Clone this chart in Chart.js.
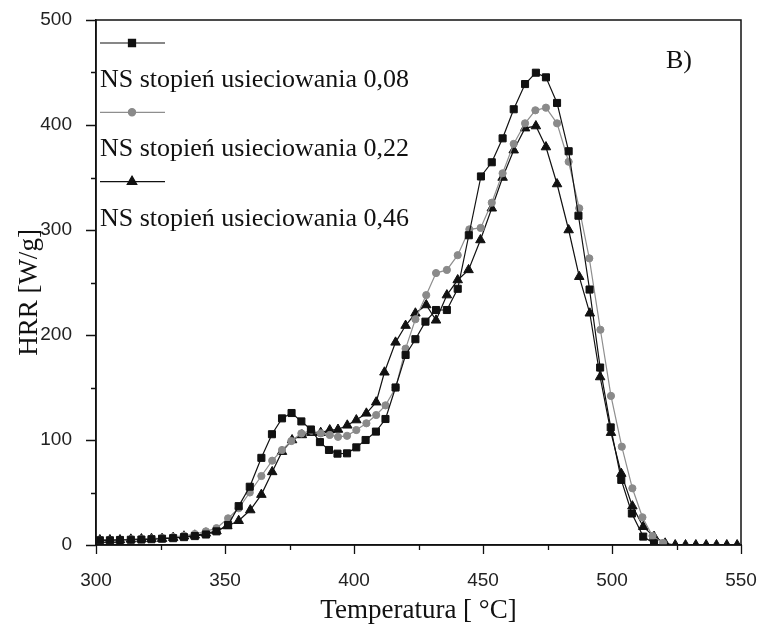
<!DOCTYPE html>
<html>
<head>
<meta charset="utf-8">
<script src="https://cdn.jsdelivr.net/npm/chart.js@4.4.1/dist/chart.umd.min.js"></script>
<style>
  html, body { margin: 0; padding: 0; background: #fff; }
  #wrap { width: 762px; height: 633px; }
</style>
</head>
<body>
<div id="wrap"><canvas id="hrr"></canvas></div>
<script>
// HRR curves, temperature in degC, HRR in W/g
const labels = ['NS stopień usieciowania 0,08', 'NS stopień usieciowania 0,22', 'NS stopień usieciowania 0,46']

const tempLow = [301.5, 305.4, 309.3, 313.5, 317.6, 321.5, 325.6, 329.9, 334.1, 338.3, 342.6, 346.7]

const temp008 = tempLow.concat([351.2, 355.3, 359.6, 364.1, 368.2, 372.1, 375.8, 379.6, 383.3, 386.8, 390.3, 393.6, 397.3,
  400.9, 404.5, 408.5, 412.2, 416.1, 420.0, 423.8, 427.7, 431.8, 436.0, 440.2, 444.5, 449.2, 453.4, 457.6,
  461.9, 466.3, 470.5, 474.4, 478.7, 483.2, 487.0, 491.3, 495.4, 499.5, 503.6, 507.7, 512.1, 516.3])
const hrr008 = [4.5, 4.5, 4.8, 5.0, 5.2, 5.5, 6.0, 6.5, 7.5, 8.5, 10, 13,
  19, 37, 55.5, 83, 105.5, 120.6, 125.7, 117.7, 110, 98, 90.5, 87, 87.3,
  93, 100, 108, 120, 150, 181, 196, 212.7, 223.8, 223.8, 244, 295, 351, 364.5, 387.3,
  415, 439, 449.8, 445.4, 421, 375, 313.6, 243.3, 169, 112, 62, 30, 8, 1.5]

const temp022 = tempLow.concat([351.2, 355.3, 359.6, 364.1, 368.3, 372.1, 375.7, 379.6, 383.5, 387.1, 390.6, 393.8, 397.3,
  400.9, 404.8, 408.6, 412.2, 416.2, 420.0, 423.8, 428.0, 431.8, 436.0, 440.2, 444.7, 449.1, 453.4, 457.6,
  461.9, 466.3, 470.3, 474.4, 478.7, 483.2, 487.3, 491.2, 495.5, 499.6, 503.8, 507.9, 511.8, 515.7, 519.8])
const hrr022 = [4.8, 4.8, 4.8, 5.4, 5.7, 6.2, 6.5, 7.5, 9, 10.5, 13, 16,
  25.4, 35, 50, 65.7, 80.3, 90.5, 99, 106.3, 108.9, 106.3, 104.8, 103, 104,
  109.5, 115.9, 123.8, 133, 150, 187, 215, 238, 259, 262, 276, 300.6, 302, 326, 354,
  382, 401.6, 414, 416.5, 401.6, 365, 320.7, 273, 205, 142, 93.6, 54, 26.4, 8.6, 2]

const temp046 = tempLow.concat([350.9, 355.3, 359.8, 364.1, 368.3, 372.1, 376.0, 379.8, 383.5, 387.1, 390.6, 393.8, 397.4,
  400.9, 404.8, 408.6, 411.8, 416.1, 420.0, 423.8, 428.0, 431.8, 436.0, 440.2, 444.4, 449.0, 453.4, 457.6,
  461.9, 466.3, 470.5, 474.4, 478.7, 483.2, 487.3, 491.4, 495.4, 499.6, 503.6, 507.9, 512.1, 516.3, 520.6,
  524.5, 528.5, 532.5, 536.5, 540.5, 544.5, 548.5])
const hrr046 = [4.8, 4.8, 4.8, 5.4, 5.7, 6.0, 6.0, 7.0, 8.3, 9.2, 11.1, 13.3,
  18.1, 23.1, 33.3, 48, 69.6, 88.9, 100, 104.8, 107, 107, 109.5, 110, 114,
  119, 125.4, 136, 164.5, 193, 209, 220.7, 228.6, 214, 238, 252.4, 262, 290.5, 320.7, 350,
  376, 397, 399, 379, 343.8, 300, 255.5, 220.7, 160, 107, 68, 37, 17.4, 8, 1.6,
  0, 0, 0, 0, 0, 0, 0]

const xTicks = [300, 350, 400, 450, 500, 550]
const yTicks = [0, 100, 200, 300, 400, 500]
const panelTag = 'B)'
const xTitle = 'Temperatura [ °C]'
const yTitle = 'HRR [W/g]'

const serif = "'Liberation Serif', 'Times New Roman', serif"

function points(xs, ys) {
  return xs.map((x, i) => ({ x: x, y: ys[i] }))
}

// fixed box sizes, no extra room for overflowing tick labels
function fitX(s) {
  s.height = 88
  s.paddingLeft = 0
  s.paddingRight = 0
}
function fitY(s) {
  s.width = 96
  s.paddingTop = 0
  s.paddingBottom = 0
}

// tick marks, frame, legend block and axis titles
const decor = {
  id: 'decor',
  afterDraw(chart) {
    const ctx = chart.ctx
    const area = chart.chartArea
    const xs = chart.scales.x
    const ys = chart.scales.y
    ctx.save()
    ctx.strokeStyle = '#111'
    ctx.lineWidth = 1.5
    ctx.strokeRect(area.left, area.top, area.right - area.left, area.bottom - area.top)

    ctx.lineWidth = 1.3
    ctx.beginPath()
    for (let v = xTicks[0]; v <= xTicks[xTicks.length - 1]; v += 25) {
      const px = Math.round(xs.getPixelForValue(v)) + 0.5
      const len = v % 50 === 0 ? 9 : 5
      ctx.moveTo(px, area.bottom)
      ctx.lineTo(px, area.bottom + len)
    }
    for (let v = yTicks[0]; v <= yTicks[yTicks.length - 1]; v += 50) {
      const py = Math.round(ys.getPixelForValue(v)) + 0.5
      const len = v % 100 === 0 ? 10 : 5
      ctx.moveTo(area.left, py)
      ctx.lineTo(area.left - len, py)
    }
    ctx.stroke()

    // legend: sample line with marker, label text on the row below
    chart.data.datasets.forEach((ds, i) => {
      const rowY = 43 + i * 69.3
      ctx.strokeStyle = ds.borderColor
      ctx.lineWidth = 1.2
      ctx.beginPath()
      ctx.moveTo(100, rowY)
      ctx.lineTo(165, rowY)
      ctx.stroke()
      ctx.fillStyle = ds.pointBackgroundColor
      ctx.strokeStyle = ds.pointBorderColor
      Chart.helpers.drawPoint(ctx, { pointStyle: ds.pointStyle, radius: ds.pointRadius, borderWidth: 1, rotation: 0 }, 132, rowY)
      ctx.fillStyle = '#111'
      ctx.font = '26px ' + serif
      ctx.textAlign = 'left'
      ctx.textBaseline = 'alphabetic'
      ctx.fillText(ds.label, 100, 87 + i * 69.3)
    })

    ctx.fillStyle = '#111'
    ctx.font = '26px ' + serif
    ctx.textAlign = 'left'
    ctx.textBaseline = 'alphabetic'
    ctx.fillText(panelTag, 666, 68)

    ctx.font = '27px ' + serif
    ctx.textAlign = 'center'
    ctx.fillText(xTitle, (area.left + area.right) / 2, 618)

    ctx.save()
    ctx.translate(37, (area.top + area.bottom) / 2 + 10)
    ctx.rotate(-Math.PI / 2)
    ctx.fillText(yTitle, 0, 0)
    ctx.restore()
    ctx.restore()
  }
}

const styles = [
  { line: '#111', fill: '#111', shape: 'rect', r: 5 },
  { line: '#8e8e8e', fill: '#8a8a8a', shape: 'circle', r: 3.6 },
  { line: '#111', fill: '#111', shape: 'triangle', r: 5.5 }
]
const series = [points(temp008, hrr008), points(temp022, hrr022), points(temp046, hrr046)]

new Chart(document.getElementById('hrr'), {
  type: 'scatter',
  data: {
    datasets: series.map((data, i) => ({
      label: labels[i],
      data: data,
      showLine: true,
      borderColor: styles[i].line,
      borderWidth: 1.2,
      pointStyle: styles[i].shape,
      pointRadius: styles[i].r,
      pointBackgroundColor: styles[i].fill,
      pointBorderColor: styles[i].fill,
      pointBorderWidth: 1,
      tension: 0
    }))
  },
  options: {
    responsive: true,
    maintainAspectRatio: false,
    animation: false,
    layout: { padding: { top: 20, right: 21, left: 0, bottom: 0 } },
    plugins: { legend: { display: false }, tooltip: { enabled: false } },
    scales: {
      x: {
        type: 'linear',
        min: 300,
        max: 550,
        afterFit: fitX,
        afterBuildTicks: s => { s.ticks = xTicks.map(v => ({ value: v })) },
        grid: { display: false },
        border: { display: true, color: '#111', width: 1.5 },
        ticks: { padding: 16, color: '#222', font: { family: "'Liberation Sans', Arial, sans-serif", size: 19 } }
      },
      y: {
        min: 0,
        max: 500,
        afterFit: fitY,
        afterBuildTicks: s => { s.ticks = yTicks.map(v => ({ value: v })) },
        grid: { display: false },
        border: { display: true, color: '#111', width: 1.5 },
        ticks: { padding: 16, color: '#222', font: { family: "'Liberation Sans', Arial, sans-serif", size: 19 } }
      }
    }
  },
  plugins: [decor]
})
</script>
</body>
</html>
